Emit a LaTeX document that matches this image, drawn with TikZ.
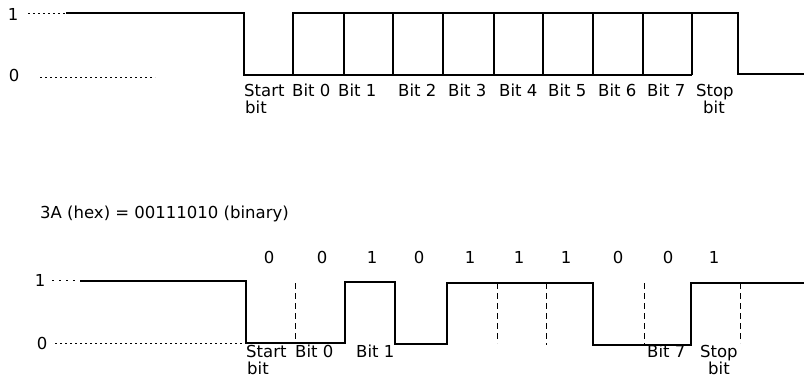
\documentclass[tikz,border=0pt]{standalone}
\usepackage{fontspec}
\newfontfamily\labfont{DejaVu Sans}
\begin{document}
\begin{tikzpicture}[x=1pt,y=-1pt,
  wave/.style={line width=1.8pt,line join=miter},
  grid/.style={line width=1.8pt},
  guide/.style={line width=0.9pt,dash pattern=on 2pt off 3pt},
  tick/.style={line width=0.9pt,dash pattern=on 6pt off 4pt},
  lab/.style={font=\labfont\fontsize{16.5}{17}\selectfont,inner sep=0pt,anchor=base west},
  lev/.style={font=\labfont\fontsize{16.5}{17}\selectfont,inner sep=0pt,anchor=base}]
\useasboundingbox (0,0) rectangle (804,386);
% ---------- top diagram ----------
\node[lev] (t1) at (13,20) {1};
\node[lev] (t0) at (14,81) {0};
\draw[guide] (28,13) -- (66,13);
\draw[guide] (40,77) -- (155,77);
\draw[wave] (66,13) -- (244,13) -- (244,75) -- (293,75) -- (293,13) -- (738,13) -- (738,74) -- (804,74);
\draw[grid] (293,75) -- (692,75);
\foreach \x in {344,393,443,494,543,593,643,692}
  \draw[grid] (\x,13) -- (\x,75);
\node[lab] (tst) at (244,96) {Start};
\node[lab] (tstb) at (245,113) {bit};
\node[lab] (tb0) at (292,96) {Bit 0};
\node[lab] (tb1) at (338,96) {Bit 1};
\node[lab] (tb2) at (398,96) {Bit 2};
\node[lab] (tb3) at (448,96) {Bit 3};
\node[lab] (tb4) at (499,96) {Bit 4};
\node[lab] (tb5) at (548,96) {Bit 5};
\node[lab] (tb6) at (598,96) {Bit 6};
\node[lab] (tb7) at (647,96) {Bit 7};
\node[lab] (tsp) at (696,96) {Stop};
\node[lab] (tspb) at (703,113) {bit};
% ---------- bottom diagram ----------
\node[lab] (hex) at (40,218) {3A (hex) = 00111010 (binary)};
\node[lev] (b1) at (40,286) {1};
\node[lev] (b0) at (42,349) {0};
\draw[guide,dash pattern=on 2pt off 5pt] (52,280) -- (80,280);
\draw[guide] (55,343) -- (244,343);
\draw[wave] (80,281) -- (246,281) -- (246,343) -- (345,343) -- (345,282) -- (395,282) -- (395,344) -- (447,344) -- (447,283) -- (593,283) -- (593,345) -- (691,345) -- (691,283) -- (804,283);
\foreach \x/\a/\b in {295/283/343,497/283/343,546/283/345,644/283/345,740/283/343}
  \draw[tick] (\x,\a) -- (\x,\b);
\foreach \x/\v [count=\i] in {269/0,322/0,372/1,419/0,470/1,519/1,566/1,618/0,668/0,714/1}
  \node[lev] (v\i) at (\x,263) {\v};
\node[lab] (bst) at (246,357) {Start};
\node[lab] (bstb) at (247,374) {bit};
\node[lab] (bb0) at (295,357) {Bit 0};
\node[lab] (bb1) at (356,357) {Bit 1};
\node[lab] (bb7) at (647,357) {Bit 7};
\node[lab] (bsp) at (700,357) {Stop};
\node[lab] (bspb) at (708,374) {bit};
\end{tikzpicture}
\end{document}
